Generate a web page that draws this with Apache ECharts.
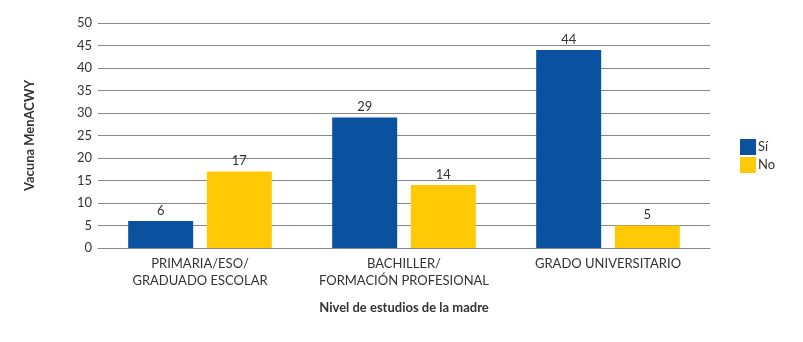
<!DOCTYPE html>
<html>
<head>
<meta charset="utf-8">
<script src="https://cdn.jsdelivr.net/npm/echarts@6/dist/echarts.min.js"></script>
<style>
  html, body { margin: 0; padding: 0; background: #fff; }
  #chart { width: 803px; height: 342px; }
</style>
</head>
<body>
<div id="chart"></div>
<script>
// Education level of the mother and MenACWY vaccination counts
const categories = ['PRIMARIA/ESO/\nGRADUADO ESCOLAR', 'BACHILLER/\nFORMACIÓN PROFESIONAL', 'GRADO UNIVERSITARIO'];
const siValues = [6, 29, 44];
const noValues = [17, 14, 5];
const seriesNames = ['Sí', 'No'];

const FONT = 'Lato';
const TEXT = '#333';

const chart = echarts.init(document.getElementById('chart'));
chart.setOption({
  animation: false,
  textStyle: { fontFamily: FONT },
  grid: { left: 98, right: 93, top: 23, bottom: 94, containLabel: false },
  legend: {
    orient: 'vertical',
    left: 735, top: 134,
    itemWidth: 16, itemHeight: 16, itemGap: 2,
    icon: 'rect',
    textStyle: { fontFamily: FONT, fontSize: 13, color: TEXT, padding: [0, 0, 0, -3] },
    data: seriesNames
  },
  xAxis: {
    type: 'category',
    data: categories,
    name: 'Nivel de estudios de la madre',
    nameLocation: 'middle',
    nameGap: 53,
    nameTextStyle: { fontFamily: FONT, fontSize: 13, fontWeight: 'bold', color: TEXT },
    axisLine: { show: true, lineStyle: { color: '#888', width: 1 } },
    axisTick: { show: false },
    axisLabel: { fontFamily: FONT, fontSize: 13, color: TEXT, margin: 7, lineHeight: 17, interval: 0 }
  },
  yAxis: {
    type: 'value',
    min: 0, max: 50, interval: 5,
    name: 'Vacuna MenACWY',
    nameLocation: 'middle',
    nameGap: 62,
    nameRotate: 90,
    nameTextStyle: { fontFamily: FONT, fontSize: 13, fontWeight: 'bold', color: TEXT },
    axisLine: { show: false },
    axisTick: { show: false },
    axisLabel: { fontFamily: FONT, fontSize: 13, color: TEXT, margin: 6 },
    splitLine: { lineStyle: { color: '#888', width: 1 } }
  },
  series: [
    {
      name: seriesNames[0], type: 'bar', data: siValues,
      barWidth: 65, barGap: '21%',
      itemStyle: { color: '#0A519F' },
      label: { show: true, position: 'top', distance: 4, fontFamily: FONT, fontSize: 13, color: TEXT }
    },
    {
      name: seriesNames[1], type: 'bar', data: noValues,
      barWidth: 65,
      itemStyle: { color: '#FFCA05' },
      label: { show: true, position: 'top', distance: 4, fontFamily: FONT, fontSize: 13, color: TEXT }
    }
  ]
});
</script>
</body>
</html>
